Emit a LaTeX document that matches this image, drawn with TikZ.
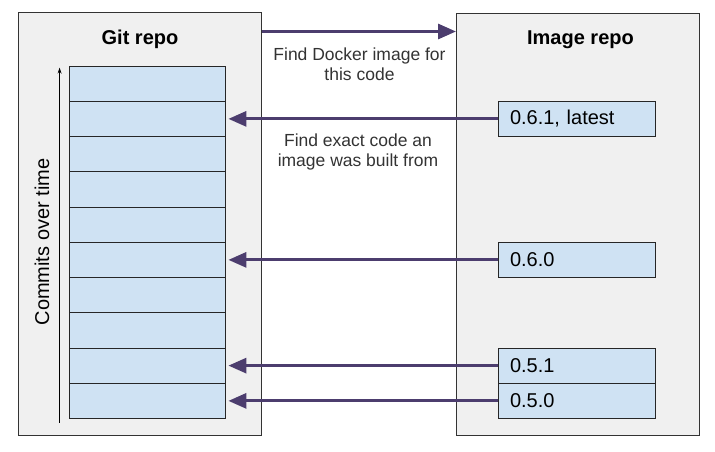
\documentclass[tikz,border=0pt]{standalone}
\usepackage{fontspec}
\setmainfont{Liberation Sans}
\usepackage{tikz}
\usetikzlibrary{arrows.meta,calc}

\definecolor{fleche}{RGB}{76,61,110}
\definecolor{bleucommit}{RGB}{207,226,243}

\begin{document}
\begin{tikzpicture}[x=1pt,y=-1pt,
   depot/.style={draw=black!80,fill=gray!12,line width=1pt,minimum width=243pt,minimum height=422pt,inner sep=0pt},
   commit/.style={draw=black!85,fill=bleucommit,line width=0.8pt,minimum width=\wpile pt,minimum height=\hcommit pt,inner sep=0pt},
   tag/.style={commit,minimum width=\wtag pt,text width=\wtag pt-24pt,align=left,inner xsep=12pt,font=\fontsize{20}{23}\selectfont},
   liaison/.style={draw=fleche,line width=3pt,-{Triangle[length=18pt,width=15pt]}},
   titre/.style={font=\fontsize{20}{24}\selectfont\bfseries,anchor=base},
   legende/.style={font=\fontsize{17.5}{20}\selectfont,align=center,text=black!80}]
\pgfmathsetmacro{\xpile}{69}%
\pgfmathsetmacro{\wpile}{156}%
\pgfmathsetmacro{\ypile}{66}%
\pgfmathsetmacro{\hcommit}{35.25}%
\pgfmathsetmacro{\xtag}{498}%
\pgfmathsetmacro{\wtag}{157}%

\useasboundingbox (0,0) rectangle (715,452);

	%depots
	\node[depot] (git) at (139.5,224) {};
	\node[depot] (image) at (578,224.5) {};
	\node[titre] (tgit) at (140,44.5) {Git repo};
	\node[titre] (timage) at (580.5,45) {Image repo};

	%pile de commits
	\foreach \i in {1,...,10}
	  \node[commit] (c\i) at (\xpile+\wpile/2,\ypile+\i*\hcommit-\hcommit/2) {};
	\draw[line width=0.8pt,-{Stealth[length=6pt,width=4pt]}] ([xshift=-9pt,yshift=-4pt]c10.south west) -- ([xshift=-9pt,yshift=-2pt]c1.north west);
	\node[rotate=90,font=\fontsize{20}{24}\selectfont] (temps) at (42,242) {Commits over time};

	%etiquettes
	\node[tag] (t061) at (\xtag+\wtag/2,\ypile+1.5*\hcommit) {0.6.1, latest};
	\node[tag] (t060) at (\xtag+\wtag/2,\ypile+5.5*\hcommit) {0.6.0};
	\node[tag] (t051) at (\xtag+\wtag/2,\ypile+8.5*\hcommit) {0.5.1};
	\node[tag] (t050) at (\xtag+\wtag/2,\ypile+9.5*\hcommit) {0.5.0};

	%fleches
	\draw[liaison] ([yshift=-19pt]git.north east) -- ([yshift=-19pt]git.north east -| image.west);
	\node[legende] (chercher) at (359.5,64) {Find Docker image for\\this code};
	\draw[liaison] (t061.west) -- ([xshift=3pt]c2.east);
	\node[legende] (retrouver) at (358,152) {Find exact code an\\image was built from};
	\draw[liaison] (t060.west) -- ([xshift=3pt]c6.east);
	\draw[liaison] (t051.west) -- ([xshift=3pt]c9.east);
	\draw[liaison] (t050.west) -- ([xshift=3pt]c10.east);

\end{tikzpicture}
\end{document}
